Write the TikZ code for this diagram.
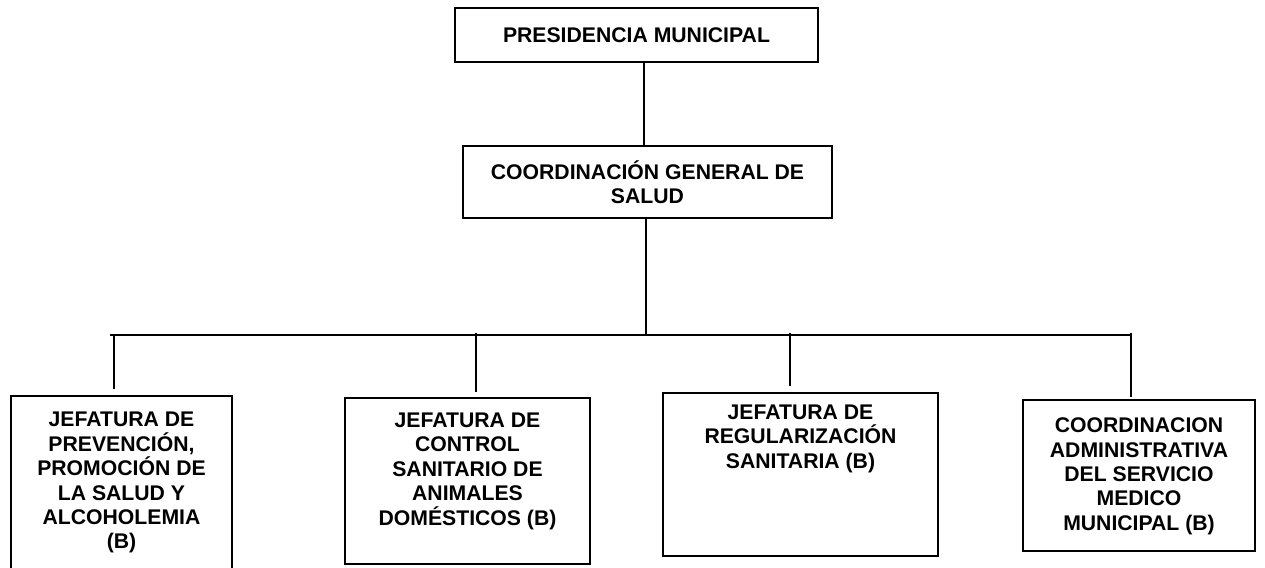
\documentclass[tikz,border=0pt]{standalone}
\usepackage{fontspec}
\setmainfont{Liberation Sans}
\usetikzlibrary{positioning, calc}

\begin{document}
\begin{tikzpicture}[
                % 1 unit = 1 px of the reference, y grows downwards
                x=0.5pt, y=-0.5pt,
                unit/.style={draw, rectangle, line width=0.9pt, inner sep=0pt},
                lbl/.style={align=center, inner sep=0pt, font=\bfseries\fontsize{10.6}{12.2}\selectfont},
                link/.style={line width=0.8pt}
            ]
                \clip (0,0) rectangle (1265,568);

                % Nodes
                \node[unit, minimum width=181.5pt, minimum height=27pt, lbl] (pres) at (636.5,35) {PRESIDENCIA MUNICIPAL};
                \node[unit, minimum width=184.5pt, minimum height=36pt, lbl] (coord) at (647.5,182) {COORDINACIÓN GENERAL DE\\SALUD};

                \node[unit, minimum width=110.5pt, minimum height=90pt] (prev) at (121.5,486) {};
                \node[unit, minimum width=122.5pt, minimum height=83pt] (ctrl) at (467.5,481) {};
                \node[unit, minimum width=137.5pt, minimum height=81.5pt] (regu) at (800.5,474.5) {};
                \node[unit, minimum width=116pt, minimum height=75.5pt] (admin) at (1139,475.5) {};

                \node[lbl, anchor=north] (tprev) at (121.5,412) {JEFATURA DE\\PREVENCIÓN,\\PROMOCIÓN DE\\LA SALUD Y\\ALCOHOLEMIA\\(B)};
                \node[lbl, anchor=north] (tctrl) at (467.5,412.5) {JEFATURA DE\\CONTROL\\SANITARIO DE\\ANIMALES\\DOMÉSTICOS (B)};
                \node[lbl, anchor=north] (tregu) at (800.5,404.5) {JEFATURA DE\\REGULARIZACIÓN\\SANITARIA (B)};
                \node[lbl, anchor=north] (tadmin) at (1139,417.5) {COORDINACION\\ADMINISTRATIVA\\DEL SERVICIO\\MEDICO\\MUNICIPAL (B)};

                % bus points
                \coordinate (top) at (644,0);
                \coordinate (hub) at (646,335);
                \coordinate (busL) at (110,335);
                \coordinate (busR) at (1131,335);
                \coordinate (d1) at (114,335);
                \coordinate (d2) at (476,333);
                \coordinate (d3) at (790,333);
                \coordinate (d4) at (1131,333);

                % Connections
                \draw[link] (pres.south -| top) -- (coord.north -| top);
                \draw[link] (coord.south -| hub) -- (hub);
                \draw[link] (busL) -- (busR);
                \draw[link, shorten >=3] (d1) -- (prev.north -| d1);
                \draw[link, shorten >=2.5] (d2) -- (ctrl.north -| d2);
                \draw[link, shorten >=3] (d3) -- (regu.north -| d3);
                \draw[link, shorten >=1] (d4) -- (admin.north -| d4);

            \end{tikzpicture}
\end{document}
